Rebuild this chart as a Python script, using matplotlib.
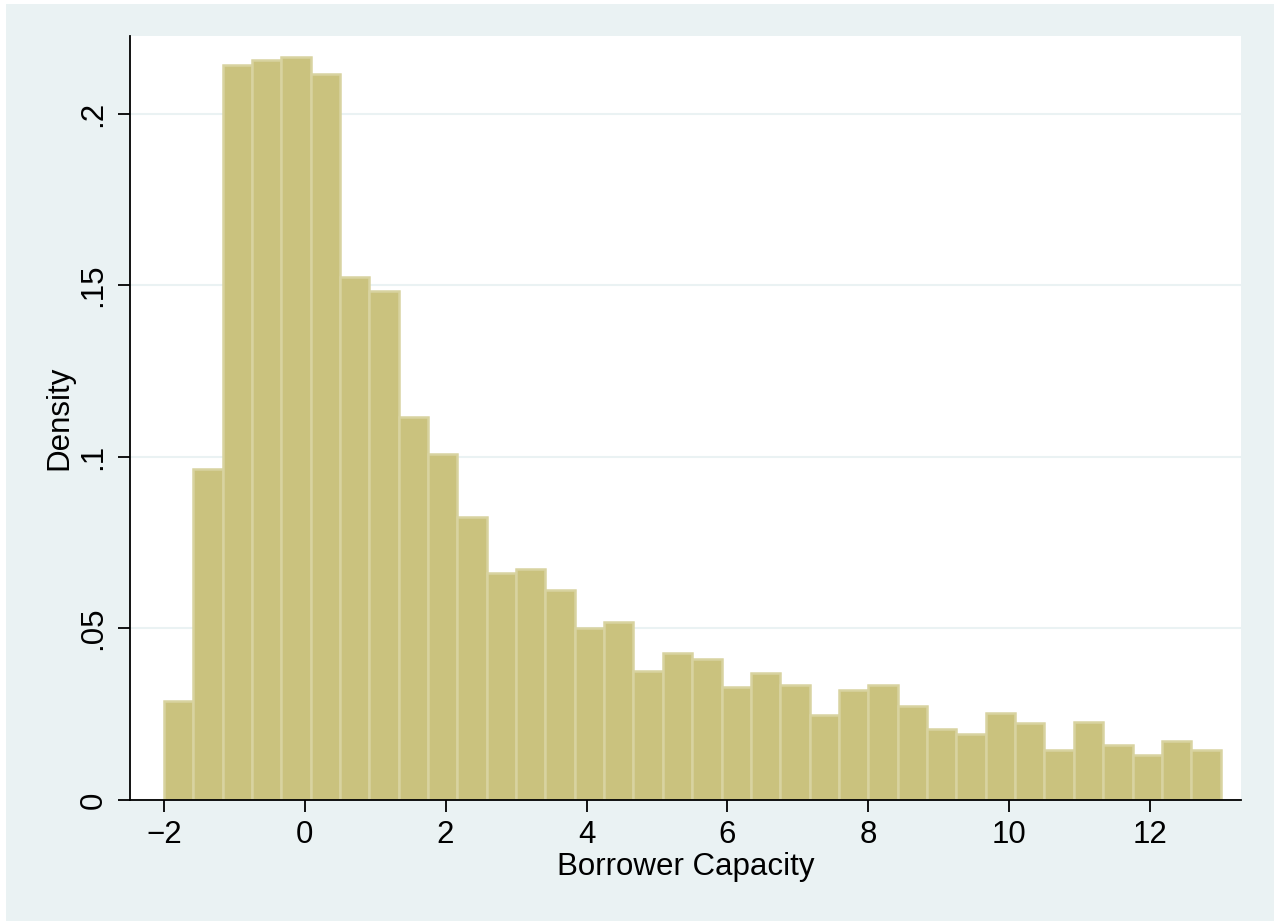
import matplotlib.pyplot as plt
import matplotlib.patches as mpatches
import numpy as np

plt.rcParams['font.family'] = ['Liberation Sans', 'DejaVu Sans']

# histogram: 36 bins from -2 to 13, density per bin
bin_start = -2.0
bin_stop = 13.0
density = [0.0290, 0.0964, 0.2143, 0.2157, 0.2167, 0.2117, 0.1524, 0.1484,
           0.1116, 0.1009, 0.0826, 0.0663, 0.0673, 0.0612, 0.0500, 0.0519,
           0.0375, 0.0428, 0.0412, 0.0330, 0.0371, 0.0335, 0.0249, 0.0321,
           0.0335, 0.0274, 0.0208, 0.0192, 0.0253, 0.0224, 0.0146, 0.0227,
           0.0161, 0.0131, 0.0172, 0.0146]
x_ticks = [-2, 0, 2, 4, 6, 8, 10, 12]
y_ticks = [0, 0.05, 0.1, 0.15, 0.2]
y_ticklabels = ['0', '.05', '.1', '.15', '.2']

bg = '#EAF2F3'
bar_fill = '#CAC27E'
bar_edge = '#D8D3A0'
fs = 22.5

fig = plt.figure(figsize=(12.75, 9.22), dpi=100)
fig.patch.set_facecolor('white')
fig.patches.append(mpatches.Rectangle(
    (6 / 1275, 1 / 922), 1268 / 1275, 917 / 922,
    transform=fig.transFigure, facecolor=bg, edgecolor='none', zorder=-10))

ax = fig.add_axes([130 / 1275, (922 - 800) / 922,
                   1111 / 1275, (800 - 36) / 922])
ax.set_facecolor('white')

edges = np.linspace(bin_start, bin_stop, len(density) + 1)
width = edges[1] - edges[0]
ax.bar(edges[:-1], density, width=width, align='edge',
       color=bar_fill, edgecolor=bar_edge, linewidth=1.8, zorder=3)

ax.set_xlim(-2.48, 13.29)
ax.set_ylim(0, 0.2227)

ax.set_yticks(y_ticks)
ax.set_yticklabels(y_ticklabels, rotation=90, va='center')
ax.set_xticks(x_ticks)
ax.set_xticklabels([str(t).replace('-', '\u2212') for t in x_ticks])
ax.tick_params(axis='both', direction='out', length=8.5, width=1.3,
               labelsize=fs, colors='black', pad=6)
ax.tick_params(axis='y', pad=7)

ax.yaxis.grid(True, color=bg, linewidth=1.5, zorder=0)
ax.set_axisbelow(True)

for side in ['top', 'right']:
    ax.spines[side].set_visible(False)
for side in ['left', 'bottom']:
    ax.spines[side].set_linewidth(1.3)
    ax.spines[side].set_zorder(5)

ax.set_xlabel('Borrower Capacity', fontsize=fs, labelpad=1)
ax.set_ylabel('Density', fontsize=fs, labelpad=3)

fig.savefig('out.png', dpi=100, facecolor=fig.get_facecolor())
